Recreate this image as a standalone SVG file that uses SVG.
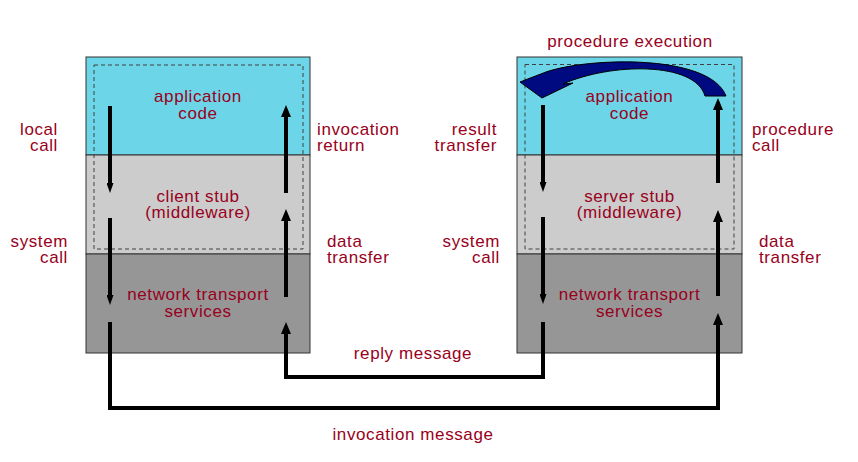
<svg xmlns="http://www.w3.org/2000/svg" width="858" height="462" viewBox="0 0 858 462">
<style>
.t{font-family:"Liberation Sans",Arial,sans-serif;font-size:17px;letter-spacing:0.6px;fill:#990020}
.m{text-anchor:middle}
.e{text-anchor:end}
.app{fill:#6cd6e8;stroke:#333;stroke-width:1}
.stub{fill:#cccccc;stroke:#333;stroke-width:1}
.net{fill:#969696;stroke:#333;stroke-width:1}
.dash{fill:none;stroke:#404040;stroke-width:1;stroke-dasharray:4,3}
.ln{fill:none;stroke:#000;stroke-width:4}
.dn{marker-end:url(#hd)}
.up{marker-end:url(#hu)}
</style>
<defs>
<marker id="hu" viewBox="0 0 12 10" refX="0" refY="5" markerWidth="12" markerHeight="10" markerUnits="userSpaceOnUse" orient="auto"><path d="M0,0 L12,5 L0,10 z" fill="#000"/></marker>
<marker id="hd" viewBox="0 0 10 7" refX="0" refY="3.5" markerWidth="10" markerHeight="7" markerUnits="userSpaceOnUse" orient="auto"><path d="M0,0 L10,3.5 L0,7 z" fill="#000"/></marker>
</defs>
<rect width="858" height="462" fill="#fff"/>

<g id="client">
<rect class="app" x="86" y="57" width="224" height="98"/>
<rect class="stub" x="86" y="155" width="224" height="99"/>
<rect class="net" x="86" y="254" width="224" height="99"/>
<rect class="dash" x="94" y="65" width="209" height="184"/>
<text class="t m" x="198" y="102">application</text>
<text class="t m" x="198" y="118.5">code</text>
<text class="t m" x="198" y="201.5">client stub</text>
<text class="t m" x="198" y="218">(middleware)</text>
<text class="t m" x="198" y="300">network transport</text>
<text class="t m" x="198" y="316.5">services</text>
</g>

<g id="server">
<rect class="app" x="517" y="57" width="225" height="98"/>
<rect class="stub" x="517" y="155" width="225" height="99"/>
<rect class="net" x="517" y="254" width="225" height="99"/>
<rect class="dash" x="525" y="64.5" width="209" height="184.5"/>
<text class="t m" x="629.5" y="102">application</text>
<text class="t m" x="629.5" y="118.5">code</text>
<text class="t m" x="629.5" y="201.5">server stub</text>
<text class="t m" x="629.5" y="218">(middleware)</text>
<text class="t m" x="629.5" y="300">network transport</text>
<text class="t m" x="629.5" y="316.5">services</text>
<path id="execution" d="M520,82 L546,72 C590,57 710,54 726,96 L705,96 C695,61 610,63 563,84 L573,83 L542,98 Z" fill="#000a80" stroke="#000" stroke-width="1" stroke-linejoin="miter"/>
</g>

<g id="connectors">
<path class="ln dn" d="M110,106 V183"/>
<path class="ln dn" d="M110,218 V295"/>
<path class="ln up" d="M286,193 V117"/>
<path class="ln up" d="M286,297 V221"/>
<path class="ln dn" d="M543,105 V182"/>
<path class="ln dn" d="M543,217 V294"/>
<path class="ln up" d="M718,183 V110"/>
<path class="ln up" d="M718,296 V222"/>
<path class="ln up" d="M110,322 V408 H718 V325"/>
<path class="ln up" d="M543,322 V377 H286 V334"/>
</g>

<g id="labels">
<text class="t e" x="58" y="135">local</text>
<text class="t e" x="58" y="151">call</text>
<text class="t e" x="68" y="247">system</text>
<text class="t e" x="68" y="263">call</text>
<text class="t" x="317" y="135">invocation</text>
<text class="t" x="317" y="151">return</text>
<text class="t" x="327" y="247">data</text>
<text class="t" x="327" y="263">transfer</text>
<text class="t e" x="497" y="135">result</text>
<text class="t e" x="497" y="151">transfer</text>
<text class="t e" x="500" y="247">system</text>
<text class="t e" x="500" y="263">call</text>
<text class="t" x="752" y="135">procedure</text>
<text class="t" x="752" y="151">call</text>
<text class="t" x="759" y="247">data</text>
<text class="t" x="759" y="263">transfer</text>
<text class="t m" x="630" y="47">procedure execution</text>
<text class="t m" x="413" y="359">reply message</text>
<text class="t m" x="413" y="440">invocation message</text>
</g>
</svg>
